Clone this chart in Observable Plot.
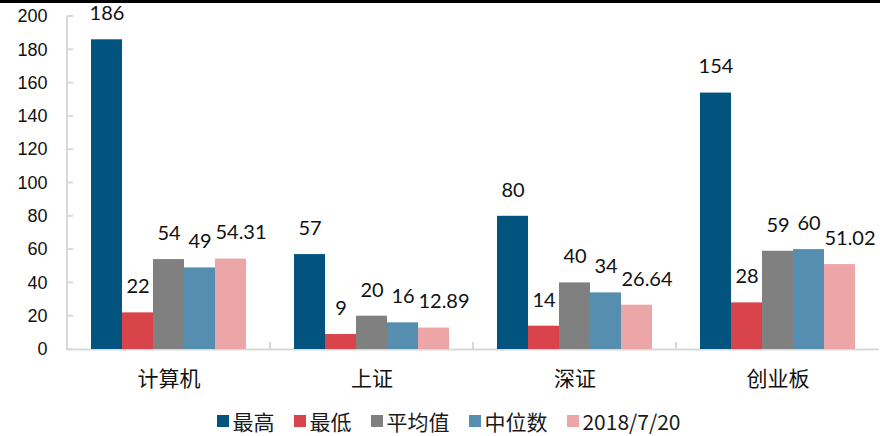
<!DOCTYPE html>
<html><head><meta charset="utf-8">
<script src="https://cdn.jsdelivr.net/npm/d3@7"></script>
<script src="https://cdn.jsdelivr.net/npm/@observablehq/plot@0.6"></script>
<style>
body{margin:0;background:#fff;}
#wrap{position:relative;width:880px;height:436px;overflow:hidden;background:#fff;}
#topline{position:absolute;left:0;top:0;width:880px;height:3px;background:#000;z-index:2;}
#chart{position:absolute;left:0;top:0;}
#legend{position:absolute;left:0;top:404px;width:880px;height:34px;line-height:34px;display:flex;justify-content:center;align-items:center;padding-left:18px;box-sizing:border-box;font-family:"Noto Sans CJK SC","Liberation Sans",sans-serif;font-size:21px;color:#1a1a1a;}
.item{display:flex;align-items:center;margin:0 10px;}
.sw{width:12px;height:12px;margin-right:3px;}
</style></head>
<body>
<div id="wrap"><div id="topline"></div><div id="chart"></div><div id="legend"></div></div>
<script>
const categories = ["计算机", "上证", "深证", "创业板"];
const seriesNames = ["最高", "最低", "平均值", "中位数", "2018/7/20"];
const maxVals = [186, 57, 80, 154];
const minVals = [22, 9, 14, 28];
const meanVals = [54, 20, 40, 59];
const medianVals = [49, 16, 34, 60];
const currentVals = [54.31, 12.89, 26.64, 51.02];
const yTicks = [0, 20, 40, 60, 80, 100, 120, 140, 160, 180, 200];
const colors = ["#03537f", "#d9434a", "#808080", "#568eb0", "#eda6a8"];

const seriesValues = [maxVals, minVals, meanVals, medianVals, currentVals];
const data = categories.flatMap((c, i) => seriesNames.map((s, j) => ({cat: c, series: s, value: seriesValues[j][i]})));
const lastSeries = seriesNames[seriesNames.length - 1];

const labelStyle = {fx: "cat", x: "series", y: "value", text: d => String(d.value), dy: -26, fontSize: 20, fontFamily: "Lato, 'Liberation Sans', sans-serif", fill: "#111"};

const plot = Plot.plot({
  width: 880, height: 400,
  marginLeft: 65, marginRight: 0, marginTop: 16, marginBottom: 51,
  style: {fontFamily: "'Liberation Sans', Arial, sans-serif", background: "transparent", maxWidth: "none", color: "#111"},
  fx: {domain: categories, padding: 0},
  x: {domain: seriesNames, axis: null, paddingInner: 0, paddingOuter: 0.7},
  y: {domain: [0, 200], axis: null},
  color: {domain: seriesNames, range: colors},
  marks: [
    Plot.axisY({ticks: yTicks, tickSize: 0, tickPadding: 20, fontSize: 18, label: null}),
    Plot.axisFx({anchor: "bottom", tickSize: 0, tickPadding: 22, fontSize: 21, fontFamily: "'Noto Sans CJK SC', sans-serif", label: null}),
    Plot.ruleY([0], {stroke: "#d9d9d9", strokeWidth: 2}),
    Plot.barY(data, {fx: "cat", x: "series", y: "value", fill: "series"}),
    Plot.text(data.filter(d => d.series !== lastSeries), labelStyle),
    Plot.text(data.filter(d => d.series === lastSeries), {...labelStyle, dx: 10})
  ]
});
document.getElementById("chart").appendChild(plot);

// axis decorations through the plot's own scales
const ys = plot.scale("y");
const fxs = plot.scale("fx");
const svg = d3.select(plot);
const x0 = fxs.apply(categories[0]);
const g = svg.append("g").attr("stroke", "#d9d9d9").attr("stroke-width", 2);
g.append("line").attr("x1", x0).attr("x2", x0).attr("y1", ys.apply(0) + 1).attr("y2", ys.apply(200));
yTicks.forEach(t => g.append("line").attr("x1", x0).attr("x2", x0 + 6).attr("y1", ys.apply(t)).attr("y2", ys.apply(t)));
categories.slice(1).forEach(c => {
  const bx = fxs.apply(c);
  g.append("line").attr("x1", bx).attr("x2", bx).attr("y1", ys.apply(0)).attr("y2", ys.apply(0) - 7);
});

// legend
const legend = document.getElementById("legend");
seriesNames.forEach((s, i) => {
  const it = document.createElement("div"); it.className = "item";
  const sw = document.createElement("div"); sw.className = "sw"; sw.style.background = colors[i];
  const tx = document.createElement("span"); tx.textContent = s;
  it.appendChild(sw); it.appendChild(tx); legend.appendChild(it);
});
</script>
</body></html>
